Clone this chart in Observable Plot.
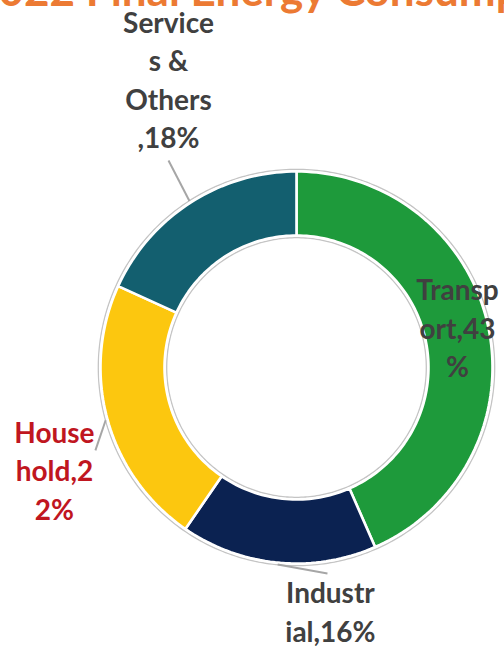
<!DOCTYPE html>
<html><head><meta charset="utf-8">
<script src="https://cdn.jsdelivr.net/npm/d3@7"></script>
<script src="https://cdn.jsdelivr.net/npm/@observablehq/plot@0.6"></script>
<style>
html,body{margin:0;padding:0;background:#fff;overflow:hidden;}
#wrap{position:relative;width:504px;height:646px;overflow:hidden;}
#chart{position:absolute;left:0;top:0;}
#title{position:absolute;left:0;top:0;width:504px;height:30px;overflow:hidden;}
</style></head><body>
<div id="wrap"><div id="chart"></div><div id="title"></div></div>
<script>
// ---- data ----
const titleText = "2022 Final Energy Consumption";
const categories = ["Transport", "Industrial", "Household", "Services & Others"];
const shares = [43, 16, 22, 18];
const labelLines = [["Transp", "ort,43", "%"], ["Industr", "ial,16%"], ["House", "hold,2", "2%"], ["Service", "s &", "Others", ",18%"]];
const sliceColors = ["#1E9A3B", "#0B2251", "#FCC70F", "#135F6F"];
const labelColors = ["#404040", "#404040", "#C0161F", "#404040"];

// ---- layout (chart units: outer radius = 1) ----
const W = 504, H = 646, CX = 296, CY = 367, R = 196;
const innerR = 132 / 196;
const lineStep = 38.5 / R;
const labelAt = [[0.821, 0.342], [0.173, -1.204], [-1.235, -0.383], [-0.653, 1.709]];
const leaderEnd = [null, [0.158, -1.051], [-1.026, -0.423], [-0.653, 1.056]];

// title (only its lower part shows in the frame, as in the reference)
const tsvg = d3.select("#title").append("svg").attr("width", 504).attr("height", 30);
tsvg.append("text").attr("x", -27).attr("y", 6)
  .attr("font-family", "Lato, sans-serif").attr("font-weight", "bold").attr("font-size", 44)
  .attr("fill", "#EC7A33").text(titleText);

const pie = d3.pie().sort(null).value(d => d.v)(categories.map((c, i) => ({c, v: shares[i]})));
const steps = 240;
const slicePts = [];
pie.forEach(p => {
  const n = Math.max(2, Math.ceil((p.endAngle - p.startAngle) / (2 * Math.PI) * steps));
  for (let k = 0; k <= n; k++) {
    const a = p.startAngle + (p.endAngle - p.startAngle) * k / n;
    slicePts.push({cat: p.data.c, x: Math.sin(a), y: Math.cos(a)});
  }
  for (let k = n; k >= 0; k--) {
    const a = p.startAngle + (p.endAngle - p.startAngle) * k / n;
    slicePts.push({cat: p.data.c, x: innerR * Math.sin(a), y: innerR * Math.cos(a)});
  }
});
const ringPts = [];
[1 + 2.2 / R, innerR - 2.2 / R].forEach((r, ri) => {
  for (let k = 0; k < 360; k++) {
    const a = k / 360 * 2 * Math.PI;
    ringPts.push({ring: ri, x: r * Math.sin(a), y: r * Math.cos(a)});
  }
});
const leaders = [];
pie.forEach((p, i) => {
  if (!leaderEnd[i]) return;
  const m = (p.startAngle + p.endAngle) / 2;
  leaders.push({x1: (1 + 2 / R) * Math.sin(m), y1: (1 + 2 / R) * Math.cos(m), x2: leaderEnd[i][0], y2: leaderEnd[i][1]});
});
const texts = [];
labelLines.forEach((lines, i) => lines.forEach((t, j) => texts.push({t, x: labelAt[i][0], y: labelAt[i][1] - j * lineStep, col: labelColors[i]})));

const chart = Plot.plot({
  width: W, height: H, margin: 0,
  x: {domain: [-CX / R, (W - CX) / R], range: [0, W], axis: null},
  y: {domain: [(CY - H) / R, CY / R], range: [H, 0], axis: null},
  color: {domain: categories, range: sliceColors},
  style: {background: "transparent", overflow: "visible"},
  marks: [
    Plot.line(ringPts, {x: "x", y: "y", z: "ring", stroke: "#c4c4c4", strokeWidth: 1.3, curve: "linear-closed"}),
    Plot.line(slicePts, {x: "x", y: "y", z: "cat", fill: "cat", stroke: "white", strokeWidth: 2.6, strokeLinejoin: "miter", curve: "linear-closed"}),
    Plot.link(leaders, {x1: "x1", y1: "y1", x2: "x2", y2: "y2", stroke: "#a6a6a6", strokeWidth: 2}),
    Plot.text(texts, {x: "x", y: "y", text: "t", fill: d => d.col, fontSize: 28, fontWeight: "bold", fontFamily: "Lato, sans-serif", textAnchor: "middle", lineAnchor: "bottom"})
  ]
});
document.getElementById("chart").appendChild(chart);
</script>
</body></html>
